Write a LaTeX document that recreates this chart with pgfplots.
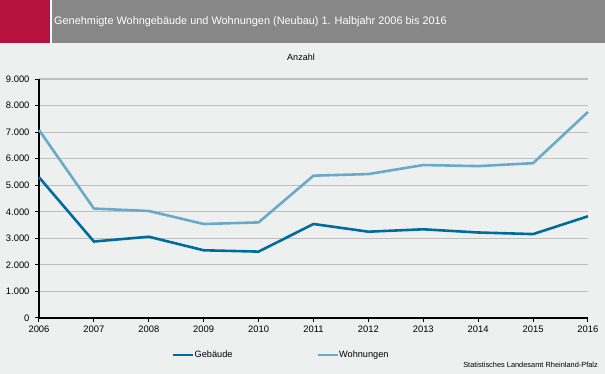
\documentclass[border=0pt]{standalone}
\usepackage{pgfplots}
\pgfplotsset{compat=1.18}
\usepackage{fontspec}
\setmainfont{Liberation Sans}
\definecolor{bg}{HTML}{EEF0EF}
\definecolor{hdr}{HTML}{878787}
\definecolor{redb}{HTML}{B5123E}
\definecolor{geb}{HTML}{006C9C}
\definecolor{woh}{HTML}{6AAAC9}
\definecolor{gridc}{HTML}{BFBFBF}
\begin{document}
\begin{tikzpicture}
\useasboundingbox (0pt,0pt) rectangle (605pt,374pt);
\fill[bg] (0pt,0pt) rectangle (605pt,374pt);
\fill[redb] (0pt,331pt) rectangle (50pt,374pt);
\fill[white] (50pt,331pt) rectangle (52pt,374pt);
\fill[hdr] (52pt,331pt) rectangle (605pt,374pt);
\node[anchor=west, text=white, font=\fontsize{10.9}{12}\selectfont, inner sep=0] at (54pt,352pt) {Genehmigte Wohngebäude und Wohnungen (Neubau) 1. Halbjahr 2006 bis 2016};
\node[font=\fontsize{9}{10}\selectfont, inner sep=0] at (301pt,317pt) {Anzahl};
\node[anchor=east, font=\fontsize{7.4}{8}\selectfont, inner sep=0] at (598pt,9pt) {Statistisches Landesamt Rheinland-Pfalz};
\begin{axis}[
  at={(39pt,56pt)}, anchor=south west,
  scale only axis, width=549pt, height=239pt,
  xmin=2006, xmax=2016, ymin=0, ymax=9000,
  xtick={2006,...,2016}, ytick={0,1000,...,9000},
  axis x line*=bottom, axis y line*=left,
  axis line style={black, line width=1.8pt},
  every tick/.style={black, line width=1pt},
  tick align=outside, major tick length=4pt,
  ymajorgrids, major grid style={gridc, line width=1.2pt},
  /pgf/number format/assume math mode=true,
  tick label style={font=\fontsize{9.4}{10}\selectfont},
  x tick label style={/pgf/number format/1000 sep={}, yshift=0pt},
  y tick label style={/pgf/number format/1000 sep={.}, xshift=-2pt},
  legend style={at={(0.242,-0.155)}, anchor=west, draw=none, fill=none, inner sep=0pt,
    legend columns=2, font=\fontsize{9.2}{10}\selectfont,
    nodes={inner xsep=0pt},
    /tikz/every even column/.append style={column sep=84pt}},
  legend cell align=left,
  legend image code/.code={\draw[#1] (0pt,0pt) -- (20pt,0pt);},
  clip=false,
]
\addplot[geb, line width=2.6pt] coordinates {
(2006,5300) (2007,2880) (2008,3060) (2009,2550) (2010,2500) (2011,3540) (2012,3250) (2013,3340) (2014,3220) (2015,3160) (2016,3830)};
\addlegendentry{Gebäude}
\addplot[woh, line width=2.6pt] coordinates {
(2006,7080) (2007,4120) (2008,4030) (2009,3540) (2010,3600) (2011,5360) (2012,5420) (2013,5760) (2014,5720) (2015,5830) (2016,7760)};
\addlegendentry{Wohnungen}
\end{axis}
\end{tikzpicture}
\end{document}
